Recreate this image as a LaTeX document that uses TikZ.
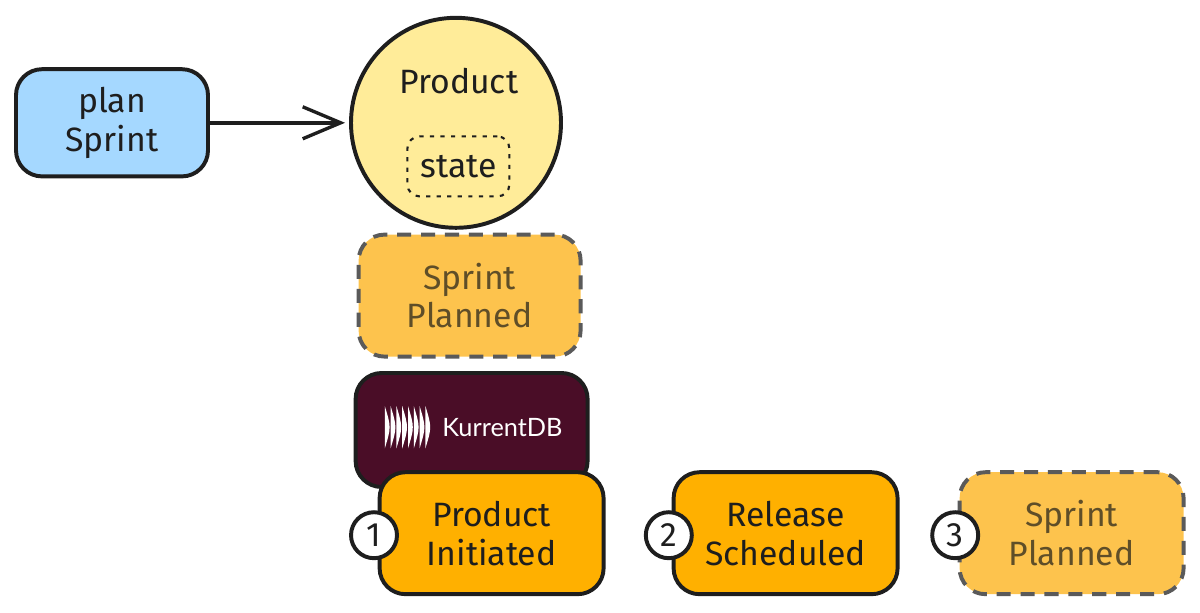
\documentclass[tikz,border=0pt]{standalone}
\usepackage{fontspec}
\setmainfont{Fira Sans}
\newfontfamily\logofont{Lato}
\usetikzlibrary{arrows.meta}

\definecolor{planblue}{HTML}{A5D8FF}
\definecolor{stateyellow}{HTML}{FFEC99}
\definecolor{eventorange}{HTML}{FFB000}
\definecolor{futureorange}{HTML}{FDC34D}
\definecolor{futuretext}{HTML}{5F4E28}
\definecolor{futureline}{HTML}{5A5A5A}
\definecolor{inkblack}{HTML}{1E1E1E}
\definecolor{dbmaroon}{HTML}{4A0D27}

\tikzset{
    sketchtext/.style={font=\fontsize{24}{27.6}\selectfont, align=center, text=inkblack},
    sketchbox/.style={draw=inkblack, line width=2.8pt, rounded corners=0.65cm,
        sketchtext},
    eventbox/.style={sketchbox, fill=eventorange,
        minimum width=5.6cm, minimum height=3.05cm},
    futurebox/.style={sketchbox, fill=futureorange, draw=futureline, text=futuretext,
        dash pattern=on 10pt off 7pt,
        minimum width=5.6cm, minimum height=3.05cm},
    numberdot/.style={draw=inkblack, fill=white, circle, line width=2.8pt,
        minimum size=1.15cm, inner sep=0pt, sketchtext}
}

\begin{document}
\begin{tikzpicture}

        \useasboundingbox (0,0) rectangle (30,-15.3);

        % Command
        \node [sketchbox,
            fill=planblue,
            minimum width=4.8cm,
            minimum height=2.68cm] (plan) at (2.8,-3.07) {plan\\Sprint};

        % Aggregate
        \node [draw=inkblack,
            fill=stateyellow,
            circle,
            line width=2.8pt,
            minimum size=5.25cm] (product) at (11.4,-3.07) {};
        \node [sketchtext] (productlabel) at (11.47,-2.02) {Product};
        \node [sketchbox,
            draw=inkblack,
            line width=1.5pt,
            dash pattern=on 3pt off 4.5pt,
            rounded corners=0.3cm,
            minimum width=2.55cm,
            minimum height=1.5cm] (state) at (11.46,-4.16) {state};

        \draw [inkblack, line width=2.8pt, shorten >=0.1cm,
            -{Straight Barb[length=0.95cm,width=0.8cm,line width=2.4pt]}]
            (plan.east) -- (product.west);

        % New event
        \node [futurebox,
            minimum width=5.55cm] (newevent) at (11.74,-7.39) {Sprint\\Planned};

        % Store
        \node [sketchbox,
            fill=dbmaroon,
            minimum width=5.8cm,
            minimum height=2.85cm] (store) at (11.79,-10.75) {};
        \foreach \i in {0,...,7}
            \fill [white] ({9.62+0.145*\i},-10.15)
                .. controls ({9.78+0.145*\i},-10.68) .. ({9.62+0.145*\i},-11.21)
                .. controls ({9.64+0.145*\i},-10.68) .. cycle;
        \node [text=white, font=\logofont\fontsize{18}{20}\selectfont] (storelabel) at (12.56,-10.68) {KurrentDB};

        % Stream
        \node [eventbox] (first) at (12.29,-13.33) {Product\\Initiated};
        \node [eventbox] (second) at (19.64,-13.33) {Release\\Scheduled};
        \node [futurebox] (third) at (26.79,-13.33) {Sprint\\Planned};

        \node [numberdot] (one) at (9.35,-13.38) {1};
        \node [numberdot] (two) at (16.72,-13.38) {2};
        \node [numberdot] (three) at (23.88,-13.38) {3};

\end{tikzpicture}
\end{document}
